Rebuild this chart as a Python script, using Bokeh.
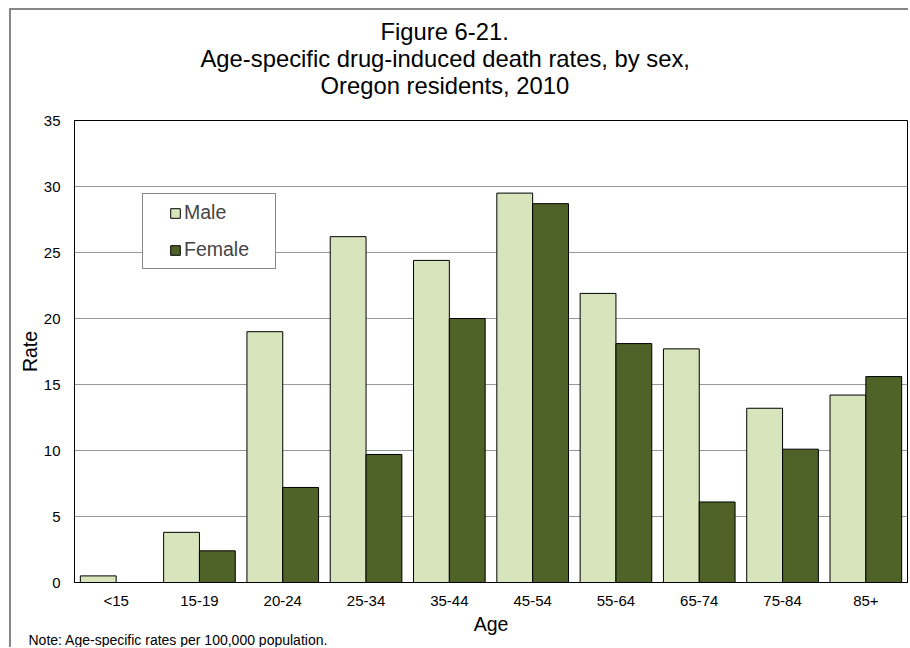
from bokeh.plotting import figure
from bokeh.models import (FactorRange, Range1d, ColumnDataSource, Legend, LegendItem,
                          Title, FixedTicker)
from bokeh.transform import dodge
from bokeh.embed import file_html
from bokeh.resources import INLINE

# ---- data ----
ages = ["<15", "15-19", "20-24", "25-34", "35-44", "45-54", "55-64", "65-74", "75-84", "85+"]
male = [0.5, 3.8, 19.0, 26.2, 24.4, 29.5, 21.9, 17.7, 13.2, 14.2]
female = [0.0, 2.4, 7.2, 9.7, 20.0, 28.7, 18.1, 6.1, 10.1, 15.6]
y_ticks = [0, 5, 10, 15, 20, 25, 30, 35]
title_lines = ["Figure 6-21.",
               "Age-specific drug-induced death rates, by sex,",
               "Oregon residents, 2010"]
note_text = "Note: Age-specific rates per 100,000 population."
series_names = ["Male", "Female"]

FONT = "Liberation Sans"
MALE_COLOR = "#D8E4BC"
FEMALE_COLOR = "#4F6228"

source = ColumnDataSource(data=dict(age=ages, male=male, female=female))

p = figure(width=897, height=637, title=None,
           x_range=FactorRange(*ages, range_padding=0),
           y_range=Range1d(0, 35),
           output_backend="svg", toolbar_location=None,
           min_border_left=63, min_border_right=3,
           min_border_top=110, min_border_bottom=67)

# outer chart frame (left and top edges are the visible ones)
p.styles = {"box-sizing": "content-box",
            "margin-left": "9px", "margin-top": "8px",
            "border-left": "2px solid #868686", "border-top": "2px solid #868686"}

p.background_fill_color = "white"
p.border_fill_color = "white"
p.outline_line_color = "black"
p.outline_line_width = 1

r_m = p.vbar(x=dodge("age", -0.215, range=p.x_range), top="male", width=0.43,
             source=source, fill_color=MALE_COLOR, line_color="black", line_width=1)
r_f = p.vbar(x=dodge("age", 0.215, range=p.x_range), top="female", width=0.43,
             source=source, fill_color=FEMALE_COLOR, line_color="black", line_width=1)

# axes
p.yaxis.ticker = FixedTicker(ticks=y_ticks)
p.xgrid.visible = False
p.ygrid.grid_line_color = "#999999"
p.ygrid.grid_line_width = 1

for ax in (p.xaxis, p.yaxis):
    ax.major_tick_line_color = None
    ax.minor_tick_line_color = None
    ax.major_tick_out = 0
    ax.major_tick_in = 0
    ax.minor_tick_out = 0
    ax.minor_tick_in = 0
    ax.axis_line_color = "black"
    ax.major_label_text_font = FONT
    ax.major_label_text_font_size = "15px"
    ax.major_label_text_color = "black"
    ax.axis_label_text_font = FONT
    ax.axis_label_text_font_size = "19.5px"
    ax.axis_label_text_font_style = "normal"
    ax.axis_label_text_color = "black"

p.xaxis.axis_label = "Age"
p.yaxis.axis_label = "Rate"
p.xaxis.major_label_standoff = 9
p.yaxis.major_label_standoff = 14
p.xaxis.axis_label_standoff = 1
p.yaxis.axis_label_standoff = 0

# legend (a blank title on the left indents the entries inside the box)
legend = Legend(items=[LegendItem(label=series_names[0], renderers=[r_m]),
                       LegendItem(label=series_names[1], renderers=[r_f])],
                location=(68, 313), orientation="vertical",
                title=" ", title_location="left", title_standoff=8,
                title_text_font=FONT, title_text_font_size="10px",
                padding=7, spacing=14, margin=0,
                glyph_width=12, glyph_height=12, label_standoff=3, label_width=84,
                label_text_font=FONT, label_text_font_size="19.5px",
                border_line_color="#111111", border_line_width=1,
                background_fill_color="white", background_fill_alpha=1.0)
p.add_layout(legend, "center")

# title block (stacked upward from the plot area)
TITLE_SIZE = 23.8
title_offsets = [306, 126, 246]   # left offsets that centre each line at x~444
p.add_layout(Title(text=" ", text_font=FONT, text_font_size="14px", standoff=4), "above")
for txt, off in list(zip(title_lines, title_offsets))[::-1]:
    p.add_layout(Title(text=txt, align="left", offset=off, vertical_align="middle",
                       standoff=-2, text_font=FONT, text_font_size=f"{TITLE_SIZE}px",
                       text_font_style="normal", text_color="black"), "above")

# note under the chart
p.add_layout(Title(text=note_text, align="left", offset=-46, vertical_align="top",
                   standoff=-11, text_font=FONT, text_font_size="14px",
                   text_font_style="normal", text_color="black"), "below")

open("out.html", "w").write(file_html(p, INLINE))
